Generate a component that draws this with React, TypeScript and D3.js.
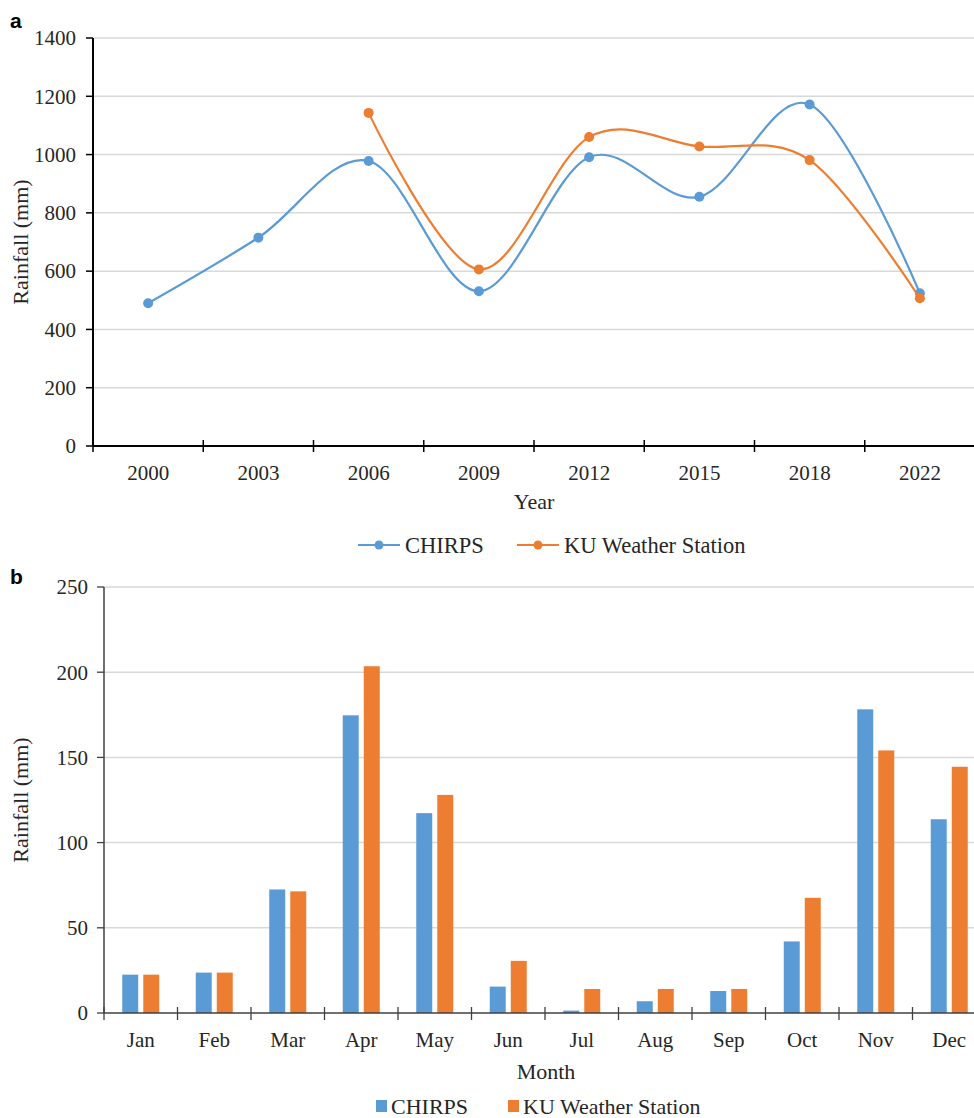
import React from 'react';
import * as d3 from 'd3';

// annual rainfall (panel a)
const years = ['2000', '2003', '2006', '2009', '2012', '2015', '2018', '2022'];
const chirpsAnnual = [490, 715, 978, 531, 991, 855, 1172, 524];
const kuAnnual: (number | null)[] = [null, null, 1143, 606, 1060, 1028, 981, 507];
const annualTicks = [0, 200, 400, 600, 800, 1000, 1200, 1400];

// monthly rainfall (panel b)
const months = ['Jan', 'Feb', 'Mar', 'Apr', 'May', 'Jun', 'Jul', 'Aug', 'Sep', 'Oct', 'Nov', 'Dec'];
const chirpsMonthly = [22.5, 23.7, 72.5, 174.7, 117.3, 15.5, 1.4, 6.9, 12.9, 42.0, 178.2, 113.7];
const kuMonthly = [22.5, 23.7, 71.4, 203.5, 128.0, 30.6, 14.1, 14.1, 14.1, 67.6, 154.1, 144.5];
const monthlyTicks = [0, 50, 100, 150, 200, 250];

const seriesNames = ['CHIRPS', 'KU Weather Station'];

const BLUE = '#5B9BD5';
const ORANGE = '#ED7D31';
const GRID = '#D9D9D9';
const TEXT = '#262626';
const SERIF = '"Liberation Serif", "Times New Roman", serif';
const SANS = '"Liberation Sans", Arial, sans-serif';
const W = 974;
const H = 1118;

function LineChart() {
  const x = d3.scaleBand<string>().domain(years).range([93, 975]);
  const y = d3.scaleLinear().domain([0, 1400]).range([446, 38]);
  const cx = (k: string) => (x(k) ?? 0) + x.bandwidth() / 2;

  const line = d3.line<{ k: string; v: number | null }>()
    .defined(d => d.v != null)
    .x(d => cx(d.k))
    .y(d => y(d.v as number))
    .curve(d3.curveCardinal.tension(0));

  const series = [
    { name: seriesNames[0], color: BLUE, values: chirpsAnnual as (number | null)[] },
    { name: seriesNames[1], color: ORANGE, values: kuAnnual },
  ];

  const boundaries = d3.range(years.length + 1).map(i => x.range()[0] + i * x.step());

  return (
    <g>
      <text x={10} y={28} fontFamily={SANS} fontWeight="bold" fontSize={21} fill="#000">a</text>
      {annualTicks.filter(t => t > 0).map(t => (
        <line key={t} x1={93} x2={W} y1={y(t)} y2={y(t)} stroke={GRID} strokeWidth={1.5} />
      ))}
      {annualTicks.map(t => (
        <g key={t}>
          <line x1={86} x2={93} y1={y(t)} y2={y(t)} stroke="#000" strokeWidth={1.5} />
          <text x={76} y={y(t)} dy="0.35em" textAnchor="end" fontFamily={SERIF} fontSize={21} fill={TEXT}>{t}</text>
        </g>
      ))}
      {boundaries.map((b, i) => (
        <line key={i} x1={b} x2={b} y1={440} y2={452} stroke="#000" strokeWidth={1.5} />
      ))}
      <line x1={93} x2={93} y1={38} y2={446} stroke="#000" strokeWidth={2} />
      <line x1={93} x2={W} y1={446} y2={446} stroke="#000" strokeWidth={2} />
      {years.map(k => (
        <text key={k} x={cx(k)} y={480} textAnchor="middle" fontFamily={SERIF} fontSize={21} fill={TEXT}>{k}</text>
      ))}
      <text x={cx(years[3]) + x.step() / 2} y={509} textAnchor="middle" fontFamily={SERIF} fontSize={22} fill={TEXT}>Year</text>
      <text transform="translate(28,242) rotate(-90)" textAnchor="middle" fontFamily={SERIF} fontSize={22} fill={TEXT}>Rainfall (mm)</text>
      {series.map(s => {
        const pts = years.map((k, i) => ({ k, v: s.values[i] }));
        return (
          <g key={s.name}>
            <path d={line(pts) ?? ''} fill="none" stroke={s.color} strokeWidth={2.2} />
            {pts.filter(p => p.v != null).map(p => (
              <circle key={p.k} cx={cx(p.k)} cy={y(p.v as number)} r={5} fill={s.color} />
            ))}
          </g>
        );
      })}
      {/* legend */}
      {series.map((s, i) => {
        const lx = i === 0 ? 358 : 517;
        return (
          <g key={s.name}>
            <line x1={lx} x2={lx + 42} y1={545} y2={545} stroke={s.color} strokeWidth={2.2} />
            <circle cx={lx + 21} cy={545} r={4.5} fill={s.color} />
            <text x={lx + 47} y={545} dy="0.35em" fontFamily={SERIF} fontSize={22.5} fill={TEXT}>{s.name}</text>
          </g>
        );
      })}
    </g>
  );
}

function BarChart() {
  const x = d3.scaleBand<string>().domain(months).range([104, 986]);
  const y = d3.scaleLinear().domain([0, 250]).range([1013, 587]);
  const inner = d3.scaleBand<string>().domain(seriesNames).range([-18.5, 18.5]).paddingInner(0.24);
  const cx = (k: string) => (x(k) ?? 0) + x.bandwidth() / 2;

  const series = [
    { name: seriesNames[0], color: BLUE, values: chirpsMonthly },
    { name: seriesNames[1], color: ORANGE, values: kuMonthly },
  ];

  const boundaries = d3.range(months.length + 1).map(i => x.range()[0] + i * x.step());

  return (
    <g>
      <text x={10} y={584} fontFamily={SANS} fontWeight="bold" fontSize={21} fill="#000">b</text>
      {monthlyTicks.filter(t => t > 0).map(t => (
        <line key={t} x1={104} x2={W} y1={y(t)} y2={y(t)} stroke={GRID} strokeWidth={1.5} />
      ))}
      {series.map(s => (
        <g key={s.name}>
          {months.map((m, i) => (
            <rect key={m} x={cx(m) + (inner(s.name) ?? 0)} y={y(s.values[i])}
              width={inner.bandwidth()} height={y(0) - y(s.values[i])} fill={s.color} />
          ))}
        </g>
      ))}
      {monthlyTicks.map(t => (
        <g key={t}>
          <line x1={97} x2={104} y1={y(t)} y2={y(t)} stroke="#404040" strokeWidth={1.3} />
          <text x={88} y={y(t)} dy="0.35em" textAnchor="end" fontFamily={SERIF} fontSize={21} fill={TEXT}>{t}</text>
        </g>
      ))}
      {boundaries.map((b, i) => (
        <line key={i} x1={b} x2={b} y1={1007} y2={1020} stroke="#404040" strokeWidth={1.3} />
      ))}
      <line x1={104} x2={104} y1={587} y2={1013} stroke="#404040" strokeWidth={1.5} />
      <line x1={104} x2={W} y1={1013} y2={1013} stroke="#404040" strokeWidth={1.5} />
      {months.map(m => (
        <text key={m} x={cx(m)} y={1047} textAnchor="middle" fontFamily={SERIF} fontSize={21} fill={TEXT}>{m}</text>
      ))}
      <text x={546} y={1079} textAnchor="middle" fontFamily={SERIF} fontSize={22} fill={TEXT}>Month</text>
      <text transform="translate(28,800) rotate(-90)" textAnchor="middle" fontFamily={SERIF} fontSize={22} fill={TEXT}>Rainfall (mm)</text>
      {/* legend */}
      {series.map((s, i) => {
        const lx = i === 0 ? 376 : 508;
        return (
          <g key={s.name}>
            <rect x={lx} y={1100} width={11} height={12} fill={s.color} />
            <text x={lx + 15} y={1106} dy="0.35em" fontFamily={SERIF} fontSize={22} fill={TEXT}>{s.name}</text>
          </g>
        );
      })}
    </g>
  );
}

export default function App() {
  return (
    <div style={{ position: 'absolute', left: 0, top: 0 }}>
      <svg width={W} height={H} style={{ display: 'block', background: '#fff' }}>
        <rect width={W} height={H} fill="#fff" />
        <LineChart />
        <BarChart />
      </svg>
    </div>
  );
}
